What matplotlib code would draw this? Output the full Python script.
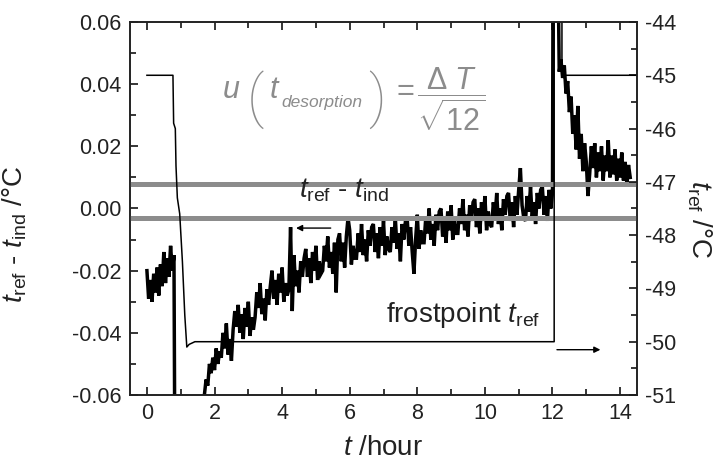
import numpy as np
import matplotlib
matplotlib.use('Agg')
import matplotlib.pyplot as plt
from matplotlib.ticker import MultipleLocator

plt.rcParams['font.family'] = ['Liberation Sans', 'DejaVu Sans']
plt.rcParams['mathtext.fontset'] = 'custom'
plt.rcParams['mathtext.rm'] = 'Liberation Sans'
plt.rcParams['mathtext.it'] = 'Liberation Sans:italic'
plt.rcParams['mathtext.bf'] = 'Liberation Sans:bold'
plt.rcParams['axes.unicode_minus'] = False

diff_seg1 = [-20, -29, -23, -30, -21, -27, -19, -28, -18, -25, -14, -24, -16, -22, -12, -20, -15]
diff_seg2 = [
    -60, -55, -57, -50, -53, -48, -52, -45, -50, -46,
    -48, -40, -45, -37, -47, -42, -49, -39, -33, -38,
    -31, -40, -34, -42, -32, -38, -30, -41, -35, -39,
    -35, -27, -32, -24, -34, -29, -36, -26, -31, -25,
    -20, -29, -23, -31, -21, -27, -19, -30, -24, -28,
    -26, -6, -33, -15, -25, -20, -27, -17, -22, -16,
    -13, -22, -16, -24, -14, -20, -12, -23, -17, -21,
    -20, -12, -17, -9, -19, -14, -21, -11, -27, -10,
    -8, -17, -11, -19, -9, -3, -7, -18, -12, -16,
    -16, -8, -14, -5, -15, -10, -17, -7, -12, -6,
    -5, -14, -8, -16, -6, -12, -4, -15, -9, -13,
    -14, -6, -11, -3, -13, -8, -17, -5, -10, -4,
    -3, -12, -6, -14, -21, -10, -2, -13, -7, -11,
    -11, -3, -8, 0, -10, -5, -12, -2, -7, -1,
    0, -9, -3, -11, -1, -7, 1, -10, -4, -8,
    -8, 0, -5, 3, -7, -2, -9, 1, -4, 2,
    3, -6, 0, -8, 2, -4, 4, -7, -1, -5,
    -6, 2, -3, 5, -5, 0, -7, 3, -2, 4,
    5, -4, 2, -6, 4, -2, 6, 13, 1, -3,
    -4, 4, -1, 7, -3, 2, -5, 5, 0, 6,
    7, -2, 4, -4, 6, 0, 5,
]
diff_seg3 = [
    44, 48, 42, 46, 37, 41, 31, 36, 24, 30,
    19, 33, 16, 24, 12, 21, 15, 4, 11, 20,
    13, 21, 10, 18, 12, 20, 9, 17, 12, 22,
    10, 17, 11, 19, 9, 16, 10, 18, 9, 15,
    8, 14, 10,
]
# off-scale excursions (below / above the plotted range)
off_low = -90
off_high = 90

# frostpoint t_ref, right axis
frost_hours = [0, 0.77, 0.79, 0.84, 0.86, 0.90, 0.97, 1.05, 1.12, 1.18, 1.25, 1.42, 12.05, 12.05, 12.28, 12.28, 14.5]
frost_temp = [-45, -45, -45.9, -46.0, -46.7, -47.3, -47.6, -48.5, -49.5, -50.1, -50.05, -50.0, -50.0, -43.0, -43.0, -45.0, -45.0]

# u(t_desorption) band limits
band_levels = [0.0078, -0.0029]

hours = np.concatenate([
    np.linspace(0.0, 0.80, len(diff_seg1)), [0.83, 1.66],
    np.linspace(1.70, 12.00, len(diff_seg2)), [12.02, 12.15],
    np.linspace(12.20, 14.30, len(diff_seg3)),
])
diff = np.array(diff_seg1 + [off_low, off_low] + diff_seg2 + [off_high, off_high] + diff_seg3) / 1000.0

txt = '#222222'
gray = '#8c8c8c'
fig = plt.figure(figsize=(7.24, 4.70), dpi=100)
ax = fig.add_axes([0.1796, 0.1596, 0.7002, 0.7936])
ax2 = ax.twinx()

ax.plot(hours, diff, color='black', lw=2.5, solid_joinstyle='miter')
for lv in band_levels:
    ax.axhline(lv, color=gray, lw=3.6, zorder=3)

ax2.plot(frost_hours, frost_temp, color='black', lw=1.1)

ax.set_xlim(-0.5, 14.5)
ax.set_ylim(-0.06, 0.06)
ax2.set_ylim(-51, -44)

ax.xaxis.set_major_locator(MultipleLocator(2))
ax.xaxis.set_minor_locator(MultipleLocator(1))
ax.yaxis.set_major_locator(MultipleLocator(0.02))
ax.yaxis.set_minor_locator(MultipleLocator(0.01))
ax2.yaxis.set_major_locator(MultipleLocator(1))
ax2.yaxis.set_minor_locator(MultipleLocator(0.5))
ax.yaxis.set_major_formatter(plt.FormatStrFormatter('%.2f'))

ax.tick_params(which='both', direction='in', top=True, right=False, width=1.1,
               labelsize=15.5, labelcolor=txt, pad=6)
ax.tick_params(which='major', length=6)
ax.tick_params(which='minor', length=4)
ax2.tick_params(which='both', direction='in', width=1.1, labelsize=15.5, labelcolor=txt, pad=6)
ax2.tick_params(which='major', length=6)
ax2.tick_params(which='minor', length=4)
for a in (ax, ax2):
    for s in a.spines.values():
        s.set_linewidth(1.2)
        s.set_color('#222222')

ax.set_xlabel('$t$ /hour', fontsize=20, color=txt, labelpad=8)
ax.set_ylabel(r'$t_{\rm ref}$ - $t_{\rm ind}$ /°C', fontsize=20, color=txt)
ax.yaxis.set_label_coords(-0.20, 0.43)
ax2.set_ylabel(r'$t_{\rm ref}$ /°C', fontsize=20, color=txt, rotation=270)
ax2.yaxis.set_label_coords(1.15, 0.47)

ax.text(4.5, 0.0034, r'$t_{\rm ref}$ - $t_{\rm ind}$', fontsize=20, color=txt, va='baseline', zorder=5)
ax.text(7.06, -0.0365, r'frostpoint $t_{\rm ref}$', fontsize=20, color=txt, va='baseline', zorder=5)

# u(t_desorption) = dT / sqrt(12), built from pieces so the brackets stay tall
ax.text(2.23, 0.0355, '$u$', fontsize=22, color=gray, va='baseline', zorder=5)
ax.text(2.95, 0.0352, '(', fontsize=42, color=gray, va='center', zorder=5,
        family=['Roboto', 'Liberation Sans'], fontweight='light')
ax.text(3.6, 0.0355, '$t$', fontsize=22, color=gray, va='baseline', zorder=5)
ax.text(3.98, 0.0327, 'desorption', fontsize=12.5, color=gray, va='baseline', style='italic', zorder=5)
ax.text(6.55, 0.0352, ')', fontsize=42, color=gray, va='center', zorder=5,
        family=['Roboto', 'Liberation Sans'], fontweight='light')
ax.text(7.22, 0.0355, '$=$', fontsize=22, color=gray, va='baseline', zorder=5)
ax.text(7.98, 0.0352, r'$\dfrac{\Delta\ T}{\sqrt{12}}$', fontsize=22, color=gray, va='center', zorder=5)

ax.annotate('', xy=(4.33, -0.0063), xytext=(5.52, -0.0063),
            arrowprops=dict(arrowstyle='-|>', color='black', lw=1.0, mutation_scale=9))
ax2.annotate('', xy=(13.5, -50.15), xytext=(12.05, -50.15),
             arrowprops=dict(arrowstyle='-|>', color='black', lw=1.0, mutation_scale=9))

fig.savefig('out.png', dpi=100)
